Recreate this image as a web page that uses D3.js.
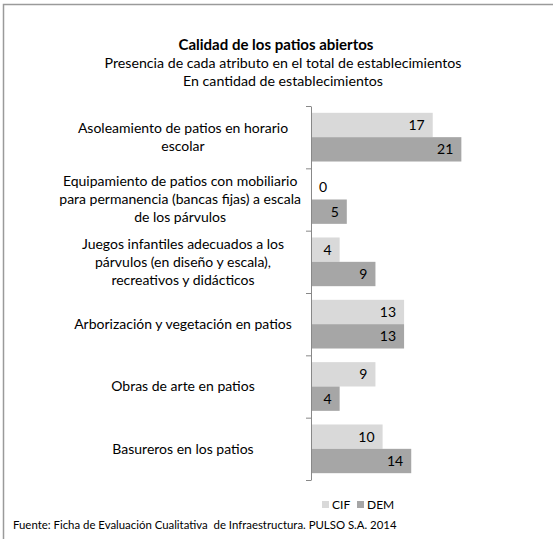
<!DOCTYPE html>
<html>
<head>
<meta charset="utf-8">
<script src="https://cdn.jsdelivr.net/npm/d3@7"></script>
<style>
  body { margin: 0; background: #fff; }
  svg { display: block; }
  text { font-family: Lato, "Open Sans", sans-serif; fill: #000; }
</style>
</head>
<body>
<svg id="chart" width="553" height="539"></svg>
<script>
// Data
const categories = [
  ["Asoleamiento de patios en horario", "escolar"],
  ["Equipamiento de patios con mobiliario", "para permanencia (bancas fijas) a escala", "de los párvulos"],
  ["Juegos infantiles adecuados a los", "párvulos (en diseño y escala),", "recreativos y didácticos"],
  ["Arborización y vegetación en patios"],
  ["Obras de arte en patios"],
  ["Basureros en los patios"]
];
const seriesNames = ["CIF", "DEM"];
const cifValues = [17, 0, 4, 13, 9, 10];
const demValues = [21, 5, 9, 13, 4, 14];
const colors = ["#d9d9d9", "#a6a6a6"];

const title = "Calidad de los patios abiertos";
const subtitles = ["Presencia de cada atributo en el total de establecimientos", "En cantidad de establecimientos"];
const source = "Fuente: Ficha de Evaluación Cualitativa  de Infraestructura. PULSO S.A. 2014";

function showChart() {
  const svg = d3.select("#chart");
  const keys = categories.map((c, i) => i);
  const data = keys.map(i => ({ id: i, label: categories[i], CIF: cifValues[i], DEM: demValues[i] }));

  // Frame (only left and top visible)
  svg.append("path")
    .attr("d", "M3.5,539 V4.5 H553")
    .attr("fill", "none")
    .attr("stroke", "#9a9a9a")
    .attr("stroke-width", 1.5);

  // Titles
  svg.append("text")
    .attr("x", 276).attr("y", 50)
    .attr("text-anchor", "middle")
    .style("font-weight", "bold")
    .style("font-size", "15px")
    .text(title);
  svg.selectAll("text.sub")
    .data(subtitles)
    .enter().append("text")
      .attr("class", "sub")
      .attr("x", 283)
      .attr("y", (d, i) => 68 + i * 18)
      .attr("text-anchor", "middle")
      .style("font-size", "14.2px")
      .text(d => d);

  const margin = { top: 106, left: 311, bottom: 480, right: 490 };

  const x = d3.scaleLinear()
    .domain([0, 25])
    .range([margin.left, margin.right]);

  const y0 = d3.scaleBand()
    .domain(keys)
    .range([margin.top, margin.bottom])
    .padding(0);

  const y1 = d3.scaleBand()
    .domain(seriesNames)
    .range([0, y0.bandwidth()])
    .paddingInner(0)
    .paddingOuter(0.28);

  const z = d3.scaleOrdinal().domain(seriesNames).range(colors);

  // Bars
  const group = svg.selectAll("g.cat")
    .data(data)
    .enter().append("g")
      .attr("class", "cat")
      .attr("transform", d => `translate(0,${y0(d.id)})`);

  group.selectAll("rect")
    .data(d => seriesNames.map(k => ({ key: k, value: d[k] })))
    .enter().append("rect")
      .attr("x", x(0))
      .attr("y", d => y1(d.key))
      .attr("width", d => x(d.value) - x(0))
      .attr("height", y1.bandwidth())
      .attr("fill", d => z(d.key));

  // Value labels (inside end)
  group.selectAll("text.val")
    .data(d => seriesNames.map(k => ({ key: k, value: d[k] })))
    .enter().append("text")
      .attr("class", "val")
      .attr("x", d => d.value === 0 ? x(0) + 8 : x(d.value) - 8)
      .attr("y", d => y1(d.key) + y1.bandwidth() / 2)
      .attr("dy", "0.35em")
      .attr("text-anchor", d => d.value === 0 ? "start" : "end")
      .style("font-size", "14px")
      .text(d => d.value);

  // Y axis
  svg.append("g")
    .attr("transform", `translate(${margin.left},0)`)
    .call(d3.axisLeft(y0).tickValues([]).tickSizeOuter(0))
    .call(g => g.select(".domain").attr("stroke", "#888"));

  svg.append("g")
    .selectAll("line")
    .data(keys.concat([keys.length]))
    .enter().append("line")
      .attr("x1", margin.left - 5)
      .attr("x2", margin.left)
      .attr("y1", i => (i < keys.length ? y0(i) : margin.bottom) + 0.5)
      .attr("y2", i => (i < keys.length ? y0(i) : margin.bottom) + 0.5)
      .attr("stroke", "#888");

  // Category labels, centred in the label area
  group.each(function(d) {
    const g = d3.select(this);
    const lines = d.label;
    const t = g.append("text")
      .attr("text-anchor", "middle")
      .style("font-size", "14px");
    lines.forEach((line, i) => {
      t.append("tspan")
        .attr("x", 0)
        .attr("y", y0.bandwidth() / 2 + (i - (lines.length - 1) / 2) * 18)
        .attr("dy", "0.35em")
        .text(line);
    });
    const w = t.node().getBBox().width;
    const cx = Math.min(183, 301 - w / 2);
    t.selectAll("tspan").attr("x", cx);
  });

  // Legend
  const legend = svg.append("g").attr("transform", "translate(322,505)");
  const items = legend.selectAll("g")
    .data(seriesNames)
    .enter().append("g")
      .attr("transform", (d, i) => `translate(${i * 35},0)`);
  items.append("rect")
    .attr("x", 0).attr("y", -4)
    .attr("width", 7).attr("height", 7)
    .attr("fill", d => z(d));
  items.append("text")
    .attr("x", 10).attr("y", 0)
    .attr("dy", "0.35em")
    .style("font-size", "12px")
    .text(d => d);

  // Source
  svg.append("text")
    .attr("x", 13).attr("y", 529)
    .style("font-size", "11.4px")
    .style("white-space", "pre")
    .text(source);
}

showChart();
</script>
</body>
</html>
